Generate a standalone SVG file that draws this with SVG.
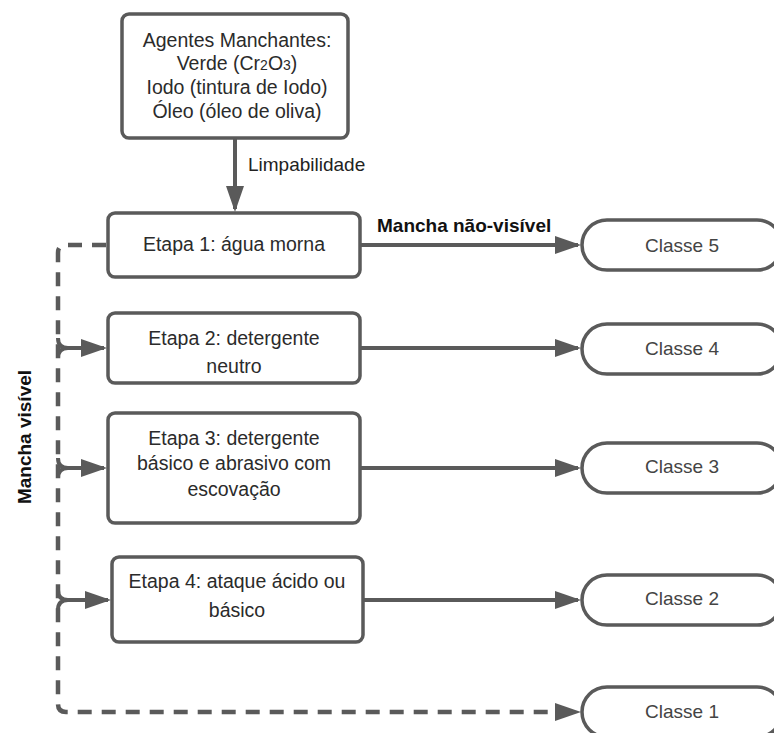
<svg xmlns="http://www.w3.org/2000/svg" width="774" height="733" viewBox="0 0 774 733">
<defs>
<marker id="arr" viewBox="0 0 26 18" markerWidth="26" markerHeight="18" markerUnits="userSpaceOnUse" refX="23" refY="9" orient="auto">
<path d="M0,0 L26,9 L0,18 z" fill="#5a5a5a"/>
</marker>
<style>
.box{fill:#fff;stroke:#5a5a5a;stroke-width:3.5}
.t{font-family:"Liberation Sans",Arial,sans-serif;font-size:19.5px;fill:#2b2b2b;text-anchor:middle}
.c{font-family:"Liberation Sans",Arial,sans-serif;font-size:19px;fill:#444;text-anchor:middle}
.lb{font-family:"Liberation Sans",Arial,sans-serif;font-size:19px;fill:#222}
.b{font-family:"Liberation Sans",Arial,sans-serif;font-size:19px;font-weight:bold;fill:#111}
.ln{fill:none;stroke:#5a5a5a;stroke-width:4}
.ds{fill:none;stroke:#5a5a5a;stroke-width:4.5;stroke-dasharray:14 10}
</style>
</defs>
<rect width="774" height="733" fill="#fff"/>
<g id="connectors">
<path class="ln" d="M235,138 V209" marker-end="url(#arr)"/>
<path class="ln" d="M360,245 H578" marker-end="url(#arr)"/>
<path class="ln" d="M360,348 H578" marker-end="url(#arr)"/>
<path class="ln" d="M360,468 H578" marker-end="url(#arr)"/>
<path class="ln" d="M363,600 H578" marker-end="url(#arr)"/>
<path class="ds" d="M106,245 H66 Q58,245 58,253 V704 Q58,712 66,712 H578" marker-end="url(#arr)"/>
<path class="ln" d="M58,338 Q58,348 68,348 M58,358 Q58,348 68,348 M66,348 H104" marker-end="url(#arr)"/>
<path class="ln" d="M58,458 Q58,468 68,468 M58,478 Q58,468 68,468 M66,468 H104" marker-end="url(#arr)"/>
<path class="ln" d="M58,590 Q58,600 68,600 M58,610 Q58,600 68,600 M66,600 H108" marker-end="url(#arr)"/>
<text class="lb" x="248" y="171">Limpabilidade</text>
<text class="b" x="377" y="232">Mancha não-visível</text>
<text class="b" transform="translate(31,437) rotate(-90)" text-anchor="middle">Mancha visível</text>
</g>
<g id="agentes">
<rect class="box" x="122" y="14" width="226" height="124" rx="7"/>
<text class="t" x="237" y="47">Agentes Manchantes:</text>
<text class="t" x="237" y="70">Verde (Cr<tspan font-size="14">2</tspan>O<tspan font-size="14">3</tspan>)</text>
<text class="t" x="237" y="94">Iodo (tintura de Iodo)</text>
<text class="t" x="237" y="118">Óleo (óleo de oliva)</text>
</g>
<g id="etapa1">
<rect class="box" x="108" y="213" width="252" height="64" rx="7"/>
<text class="t" x="234" y="251">Etapa 1: água morna</text>
</g>
<g id="etapa2">
<rect class="box" x="108" y="313" width="252" height="70" rx="7"/>
<text class="t" x="234" y="345">Etapa 2: detergente</text>
<text class="t" x="234" y="373">neutro</text>
</g>
<g id="etapa3">
<rect class="box" x="108" y="413" width="252" height="110" rx="7"/>
<text class="t" x="234" y="445">Etapa 3: detergente</text>
<text class="t" x="234" y="470">básico e abrasivo com</text>
<text class="t" x="234" y="496">escovação</text>
</g>
<g id="etapa4">
<rect class="box" x="112" y="557" width="251" height="85" rx="7"/>
<text class="t" x="237" y="588">Etapa 4: ataque ácido ou</text>
<text class="t" x="237" y="617">básico</text>
</g>
<g id="classe5">
<rect class="box" x="582" y="220" width="200" height="50" rx="25"/>
<text class="c" x="682" y="252">Classe 5</text>
</g>
<g id="classe4">
<rect class="box" x="582" y="324" width="200" height="50" rx="25"/>
<text class="c" x="682" y="355">Classe 4</text>
</g>
<g id="classe3">
<rect class="box" x="582" y="443" width="200" height="50" rx="25"/>
<text class="c" x="682" y="473">Classe 3</text>
</g>
<g id="classe2">
<rect class="box" x="582" y="575" width="200" height="50" rx="25"/>
<text class="c" x="682" y="605">Classe 2</text>
</g>
<g id="classe1">
<rect class="box" x="582" y="687" width="200" height="50" rx="25"/>
<text class="c" x="682" y="718">Classe 1</text>
</g>
</svg>
